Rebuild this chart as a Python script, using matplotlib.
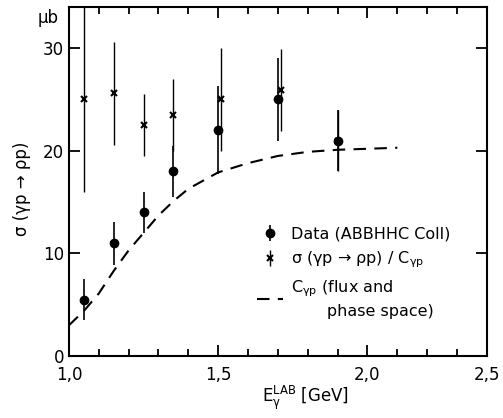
import numpy as np
import matplotlib
matplotlib.use("Agg")
import matplotlib.pyplot as plt
from matplotlib.ticker import MultipleLocator, FixedLocator

plt.rcParams['font.family'] = ['DejaVu Sans']
plt.rcParams['mathtext.default'] = 'regular'

# measured cross sections (ABBHHC Coll), microbarn
e_data = [1.05, 1.15, 1.25, 1.35, 1.50, 1.70, 1.90]
s_data = [5.5, 11.0, 14.0, 18.0, 22.0, 25.0, 21.0]
err_data = [2.0, 2.1, 2.0, 2.5, 4.3, 4.0, 3.0]

# sigma / C_gamma_p
e_corr = [1.05, 1.15, 1.25, 1.35, 1.51, 1.71, 1.90]
s_corr = [25.0, 25.6, 22.5, 23.5, 25.0, 25.9, 21.0]
err_corr = [9.0, 5.0, 3.0, 3.5, 5.0, 4.0, 3.0]

# flux and phase space factor C_gamma_p
e_flux = [1.0, 1.05, 1.1, 1.15, 1.2, 1.25, 1.3, 1.35, 1.4, 1.5, 1.6, 1.7, 1.8, 1.9, 2.0, 2.1]
c_flux = [3.0, 4.4, 6.1, 8.3, 10.3, 12.0, 13.7, 15.1, 16.3, 17.9, 18.8, 19.5, 19.9, 20.1, 20.2, 20.3]

fig = plt.figure(figsize=(5.03, 4.18), dpi=100)
ax = fig.add_axes([0.137, 0.148, 0.831, 0.835])

h1 = ax.errorbar(e_data, s_data, yerr=err_data, fmt='o', color='k', ms=6,
                 elinewidth=1.2, capsize=0)
h2 = ax.errorbar(e_corr, s_corr, yerr=err_corr, fmt='x', color='k', ms=4,
                 mew=1.5, elinewidth=1.0, capsize=0)
h3, = ax.plot(e_flux, c_flux, ls=(0, (6, 4)), color='k', lw=1.5)

ax.set_xlim(1.0, 2.4)
ax.set_ylim(0, 34)

# axis in the original ends at 2.4 but is labelled 2.5
ax.xaxis.set_major_locator(FixedLocator([1.0, 1.5, 2.0, 2.4]))
ax.set_xticklabels(['1,0', '1,5', '2,0', '2,5'])
ax.xaxis.set_minor_locator(MultipleLocator(0.1))
ax.set_yticks([0, 10, 20, 30])
ax.tick_params(which='both', direction='in', top=True, right=True,
               labelsize=12, width=1.3)
ax.tick_params(axis='x', pad=7)
ax.tick_params(which='major', length=8)
ax.tick_params(which='minor', length=5)
for s in ax.spines.values():
    s.set_linewidth(1.5)

ax.set_xlabel(r'E$_{\gamma}^{LAB}$ [GeV]', fontsize=12)
ax.xaxis.set_label_coords(0.565, -0.08)
ax.set_ylabel('σ (γp → ρp)', fontsize=12)
ax.yaxis.set_label_coords(-0.09, 0.48)
ax.text(-0.05, 0.97, 'μb', transform=ax.transAxes, fontsize=12,
        ha='center', va='center')

leg = ax.legend([h1, h2, h3],
                ['Data (ABBHHC Coll)',
                 r'σ (γp → ρp) / C$_{\gamma p}$',
                 'C$_{\\gamma p}$ (flux and\n       phase space)'],
                loc='upper left', bbox_to_anchor=(0.435, 0.39), borderaxespad=0,
                frameon=False, fontsize=11.5, handlelength=1.6,
                handletextpad=0.5, labelspacing=0.5)
for t in leg.get_texts():
    t.set_linespacing(1.45)

fig.savefig('out.png', dpi=100)
